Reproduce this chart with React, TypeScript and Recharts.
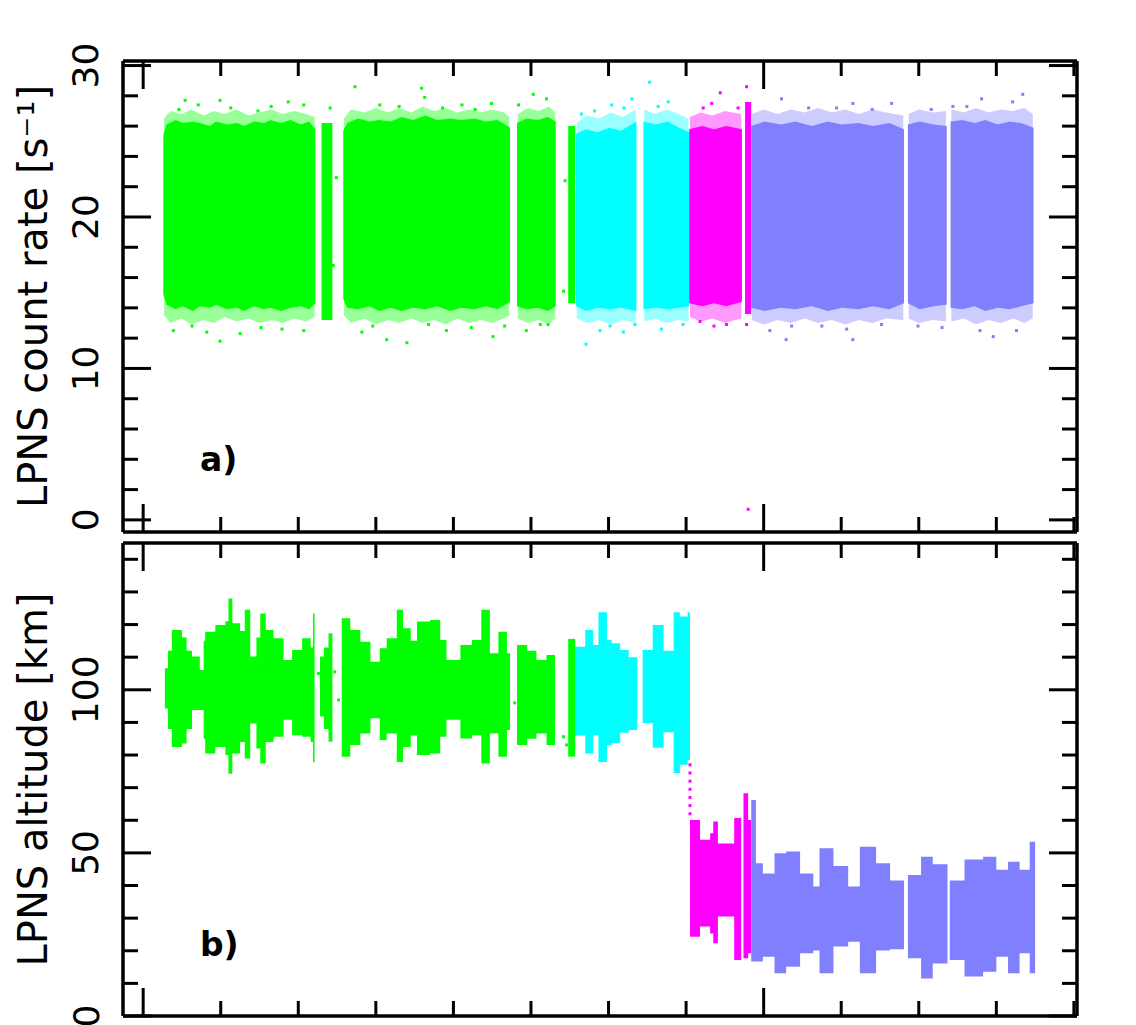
import React from 'react';
import { ComposedChart, Area, Scatter, XAxis, YAxis } from 'recharts';

const FONT = '"DejaVu Sans", "Liberation Sans", sans-serif';
const COLORS: Record<string, string> = { g: '#00ff00', c: '#00ffff', m: '#ff00ff', l: '#8080ff' };

// axis ticks (x in arbitrary orbit units)
const xTicks = [0, 10, 20, 30, 40, 50, 60, 70, 80, 90, 100, 110, 120];
const xMajor = [0, 80];
const rateTicks = [0, 2, 4, 6, 8, 10, 12, 14, 16, 18, 20, 22, 24, 26, 28, 30];
const rateLabels = [0, 10, 20, 30];
const altTicks = [0, 10, 20, 30, 40, 50, 60, 70, 80, 90, 100, 110, 120, 130, 140];
const altLabels = [0, 50, 100];

type Pt = [number, number, number]; // x, low, high
type Seg = { key: string; pts: Pt[] };

// panel a: count-rate bands (dense core of each segment)
const rateG1: Pt[] = [[2.6, 14.9, 25.4], [3.0, 14.2, 26.1], [4.2, 13.9, 26.4], [5.1, 14.1, 26.2], [6.4, 13.8, 26.3], [7.3, 14.1, 26.2], [8.6, 14.0, 26.0], [9.4, 14.2, 26.3], [10.8, 13.9, 26.1], [12.1, 14.0, 26.2], [13.0, 13.8, 26.0], [14.3, 14.1, 26.3], [15.6, 13.9, 26.2], [16.4, 14.0, 26.4], [17.8, 13.8, 26.2], [19.0, 14.0, 26.4], [20.3, 14.1, 26.1], [21.4, 13.9, 26.3], [22.2, 14.3, 25.8]];
const rateG2: Pt[] = [[23.0, 13.2, 26.2], [24.4, 13.2, 26.2]];
const rateG3: Pt[] = [[25.8, 14.6, 25.7], [26.3, 14.0, 26.2], [27.7, 13.9, 26.5], [29.2, 14.1, 26.3], [30.4, 13.8, 26.4], [31.9, 14.0, 26.3], [33.3, 13.8, 26.6], [34.8, 14.0, 26.4], [36.4, 13.9, 26.7], [37.9, 14.1, 26.4], [39.6, 13.8, 26.5], [41.0, 14.0, 26.4], [42.7, 13.9, 26.5], [44.2, 14.1, 26.3], [45.7, 13.9, 26.4], [47.3, 14.4, 25.9]];
const rateG4: Pt[] = [[48.2, 14.1, 26.2], [49.4, 13.9, 26.5], [50.9, 14.0, 26.4], [52.2, 13.8, 26.6], [53.2, 14.1, 26.3]];
const rateG5: Pt[] = [[54.8, 14.3, 26.0], [55.7, 14.3, 26.0]];
const rateC1: Pt[] = [[55.8, 14.1, 25.5], [57.1, 13.8, 25.8], [58.6, 14.0, 25.6], [60.1, 13.9, 25.9], [61.6, 14.0, 25.7], [63.6, 13.8, 26.3]];
const rateC2: Pt[] = [[64.5, 13.9, 26.3], [66.1, 14.0, 26.1], [67.6, 13.9, 26.3], [69.1, 14.0, 25.9], [70.4, 14.1, 25.6]];
const rateM1: Pt[] = [[70.4, 14.3, 25.8], [72.1, 14.1, 26.0], [73.6, 14.3, 25.8], [75.2, 14.1, 26.0], [77.2, 14.4, 25.8]];
const rateM2: Pt[] = [[77.6, 13.6, 27.6], [78.4, 13.6, 27.6]];
const rateL1: Pt[] = [[78.4, 14.0, 26.0], [80.1, 13.8, 26.3], [82.2, 14.0, 26.1], [84.1, 13.9, 26.3], [86.2, 14.1, 26.0], [88.3, 13.8, 26.3], [90.1, 14.0, 26.1], [92.2, 13.9, 26.2], [94.1, 14.1, 26.0], [96.2, 13.9, 26.2], [98.1, 14.3, 25.8]];
const rateL2: Pt[] = [[98.6, 14.3, 26.1], [100.1, 13.9, 26.3], [101.9, 14.1, 26.1], [103.6, 14.2, 26.0]];
const rateL3: Pt[] = [[104.1, 14.0, 26.3], [105.6, 13.9, 26.4], [107.2, 14.1, 26.2], [108.6, 13.8, 26.4], [110.2, 14.0, 26.1], [111.7, 13.9, 26.3], [113.2, 14.1, 26.2], [114.8, 14.3, 25.9]];

// panel a: sparse edge of each segment (drawn pale under the core)
const rateHaloG1: Pt[] = [[2.7, 13.5, 26.5], [3.5, 13.0, 27.0], [5.0, 13.3, 26.8], [6.2, 12.9, 27.1], [7.8, 13.2, 26.7], [9.1, 13.0, 27.0], [10.5, 13.4, 26.8], [12.0, 13.1, 27.1], [13.6, 13.3, 26.7], [15.0, 13.0, 26.9], [16.5, 13.2, 27.1], [18.0, 13.0, 26.8], [19.5, 13.3, 27.0], [21.0, 13.1, 26.8], [22.1, 13.4, 26.6]];
const rateHaloG3: Pt[] = [[25.9, 13.5, 26.5], [26.8, 13.0, 27.1], [28.5, 13.3, 26.9], [30.0, 12.9, 27.2], [31.6, 13.2, 26.9], [33.0, 13.0, 27.2], [34.6, 13.3, 26.9], [36.0, 13.0, 27.3], [37.5, 13.2, 27.0], [39.0, 12.9, 27.2], [40.5, 13.3, 26.9], [42.0, 13.0, 27.1], [43.5, 13.2, 26.9], [45.0, 13.0, 27.1], [46.5, 13.3, 26.9], [47.2, 13.5, 26.6]];
const rateHaloG4: Pt[] = [[48.3, 13.3, 26.8], [49.6, 13.0, 27.2], [51.0, 13.2, 27.0], [52.3, 12.9, 27.3], [53.1, 13.3, 26.9]];
const rateHaloC1: Pt[] = [[55.9, 13.3, 26.2], [57.2, 13.0, 26.7], [58.8, 13.2, 26.5], [60.3, 12.9, 26.9], [61.9, 13.2, 26.6], [63.5, 13.0, 27.1]];
const rateHaloC2: Pt[] = [[64.6, 13.1, 27.1], [66.0, 13.3, 26.8], [67.5, 13.0, 27.1], [69.0, 13.2, 26.8], [70.3, 13.1, 26.5]];
const rateHaloM1: Pt[] = [[70.5, 13.4, 26.6], [71.9, 13.1, 26.9], [73.4, 13.3, 26.7], [75.0, 13.0, 27.0], [77.1, 13.3, 26.8]];
const rateHaloL1: Pt[] = [[78.5, 13.2, 26.8], [80.0, 12.9, 27.1], [81.8, 13.2, 26.8], [83.5, 13.0, 27.1], [85.3, 13.3, 26.9], [87.0, 13.0, 27.2], [88.8, 13.2, 26.9], [90.5, 12.9, 27.1], [92.3, 13.2, 26.8], [94.0, 13.0, 27.1], [95.8, 13.3, 26.9], [98.0, 13.2, 26.7]];
const rateHaloL2: Pt[] = [[98.7, 13.3, 26.8], [100.0, 13.0, 27.1], [101.8, 13.2, 26.9], [103.5, 13.1, 27.0]];
const rateHaloL3: Pt[] = [[104.2, 13.1, 27.1], [105.8, 13.3, 26.9], [107.4, 12.9, 27.2], [109.0, 13.2, 26.9], [110.6, 13.0, 27.1], [112.2, 13.3, 27.0], [113.6, 13.0, 27.2], [114.7, 13.3, 26.8]];

// panel a: scattered points outside the core
const rateGreenDots = [[5.4, 27.7], [9.9, 27.7], [7.1, 27.4], [18.7, 27.6], [20.7, 27.4], [24.1, 27.2], [27.3, 28.6], [3.9, 12.5], [8.2, 12.4], [9.9, 11.8], [12.5, 12.3], [20.7, 12.5], [31.4, 11.9], [28.2, 12.4], [35.9, 28.5], [36.3, 27.9], [30.5, 27.4], [41.1, 27.4], [44.9, 27.5], [50.3, 28.1], [52.0, 27.8], [48.4, 27.4], [34.0, 11.7], [39.1, 12.5], [45.1, 12.1], [49.4, 12.5], [52.2, 12.9], [51.2, 12.9], [24.9, 22.6], [24.5, 16.8], [54.4, 22.4], [54.2, 15.1], [4.6, 27.1], [11.3, 27.2], [14.8, 27.0], [16.5, 27.3], [6.3, 12.8], [15.2, 12.7], [17.9, 12.6], [33.0, 27.3], [38.6, 27.2], [42.8, 27.1], [29.6, 12.8], [36.8, 12.9], [42.3, 12.7], [46.6, 12.8]];
const rateCyanDots = [[65.3, 28.9], [63.0, 27.8], [60.4, 27.4], [56.5, 26.8], [67.7, 27.6], [57.1, 11.6], [61.9, 12.4], [63.4, 12.9], [58.9, 12.5], [69.6, 12.9], [58.2, 27.0], [62.0, 27.2], [66.4, 27.3], [60.2, 12.8], [66.8, 12.6]];
const rateMagentaDots = [[74.4, 28.2], [77.8, 28.6], [72.2, 27.2], [76.7, 27.2], [71.8, 13.1], [75.2, 12.9], [77.8, 12.9], [78.0, 0.7], [73.3, 27.5], [73.6, 12.8]];
const rateLavenderDots = [[82.3, 27.8], [91.5, 27.5], [96.5, 27.5], [89.4, 27.2], [108.1, 27.8], [113.4, 28.1], [112.1, 27.6], [101.6, 27.1], [104.4, 27.3], [82.9, 11.9], [80.8, 12.5], [83.6, 12.8], [91.5, 11.9], [90.7, 12.6], [99.9, 12.8], [109.6, 12.1], [112.6, 12.5], [107.9, 12.5], [85.8, 27.2], [94.0, 27.1], [106.2, 27.3], [87.5, 12.8], [95.2, 12.9], [103.0, 12.7]];

// panel b: altitude envelopes
const altG1: Pt[] = [[2.8, 94.3, 106.6], [3.2, 88, 112], [3.7, 82.5, 118.3], [5.0, 83.5, 116], [5.6, 88, 112], [6.3, 93.8, 110.2], [7.3, 93.8, 106.1], [7.8, 85, 115], [8.0, 80.5, 117.8], [9.3, 82.5, 119.9], [10.6, 80, 121], [11.0, 74.3, 128.0], [11.5, 80.5, 120.4], [12.5, 84, 118], [13.1, 78.9, 124.5], [13.8, 89.7, 110.2], [14.6, 82, 116], [15.1, 77.4, 123.4], [15.8, 84, 118.3], [16.8, 85.6, 115.8], [18.1, 90.8, 109.1], [19.2, 86.1, 112.2], [20.5, 85.6, 115.8], [21.6, 84, 113], [21.9, 77.9, 123.4], [22.1, 77.9, 123.4]];
const altG2: Pt[] = [[22.8, 91.8, 110.2], [23.3, 88, 113], [23.9, 84.1, 117.3], [24.4, 84.1, 117.3]];
const altG3: Pt[] = [[25.6, 79.5, 121.9], [26.7, 83.1, 118.3], [28.0, 86.6, 114.7], [29.3, 91.3, 108.6], [30.5, 84.6, 112.7], [31.4, 86.6, 115.8], [32.7, 77.9, 124.5], [33.5, 82.5, 118.9], [34.5, 86, 115], [35.3, 80.0, 120.9], [37.0, 80.5, 121.4], [38.3, 85.6, 115.3], [39.1, 90.8, 109.1], [40.9, 85.1, 113.7], [42.4, 86.1, 115.3], [43.6, 77.4, 124.5], [44.7, 86.6, 111.2], [45.8, 79.5, 117.8], [46.9, 87.7, 111.2], [47.3, 87.7, 111.2]];
const altG4: Pt[] = [[48.2, 83.1, 113.7], [49.5, 85, 112], [50.7, 86.6, 109.1], [52.0, 83.1, 110.7], [53.1, 83.1, 110.7]];
const altG5: Pt[] = [[54.8, 79.5, 115.6], [55.7, 79.5, 115.6]];
const altC1: Pt[] = [[55.7, 86, 113.2], [57.0, 80.5, 118.3], [58.0, 86.1, 113.7], [58.7, 77.9, 123.8], [59.8, 83.1, 115.3], [60.4, 83.7, 114.3], [61.5, 86.8, 112.2], [62.6, 87.7, 110.0], [63.7, 87.7, 110.0]];
const altC2: Pt[] = [[64.4, 89.8, 112.2], [65.7, 82.2, 119.9], [67.1, 87, 112], [68.4, 74.5, 123.8], [69.2, 77, 122.5], [70.2, 78.5, 123.8], [70.5, 78.5, 123.8]];
const altM1: Pt[] = [[70.5, 24.3, 60.1], [71.8, 27.4, 54.0], [73.1, 25.3, 56.0], [73.5, 22.3, 59.6], [74.1, 30.5, 52.9], [76.2, 17.2, 60.7], [77.1, 17.2, 60.7]];
const altM2: Pt[] = [[77.4, 17.7, 68.3], [78.0, 19.2, 60.1], [78.4, 19.2, 60.1]];
const altL1: Pt[] = [[78.4, 16.7, 66.2], [79.0, 16.7, 46.8], [79.9, 18.2, 43.7], [81.4, 13.1, 49.9], [82.9, 15.1, 50.4], [84.7, 19.2, 43.7], [86.4, 20.1, 39.7], [87.2, 13.1, 51.4], [89.0, 21.3, 46.0], [90.9, 22.8, 39.7], [92.4, 13.1, 51.9], [94.5, 20.1, 46.8], [96.3, 20.5, 41.5], [98.1, 20.5, 41.5]];
const altL2: Pt[] = [[98.6, 17.7, 43.2], [100.3, 11.5, 48.8], [101.8, 16.1, 46.5], [103.7, 16.1, 46.5]];
const altL3: Pt[] = [[104.0, 17.2, 41.5], [105.9, 12.1, 48.0], [108.3, 13.6, 48.8], [110.0, 18.2, 44.8], [111.5, 13.1, 47.3], [113.0, 19.2, 44.8], [114.3, 13.1, 53.4], [115.0, 13.1, 53.4]];

// panel b: stray points
const altGreenDots = [[24.7, 105.5], [25.2, 96.9], [22.6, 105], [54.2, 85.6], [54.6, 83.1], [47.9, 96]];
const altMagentaDots = [[70.5, 62], [70.5, 64.5], [70.5, 67], [70.5, 69.5], [70.5, 72], [70.5, 74.5], [70.5, 77]];

const rateSegs: Seg[] = [
  { key: 'g', pts: rateG1 }, { key: 'g', pts: rateG2 }, { key: 'g', pts: rateG3 }, { key: 'g', pts: rateG4 }, { key: 'g', pts: rateG5 },
  { key: 'c', pts: rateC1 }, { key: 'c', pts: rateC2 },
  { key: 'm', pts: rateM1 }, { key: 'm', pts: rateM2 },
  { key: 'l', pts: rateL1 }, { key: 'l', pts: rateL2 }, { key: 'l', pts: rateL3 },
];
const rateHaloSegs: Seg[] = [
  { key: 'g', pts: rateHaloG1 }, { key: 'g', pts: rateHaloG3 }, { key: 'g', pts: rateHaloG4 },
  { key: 'c', pts: rateHaloC1 }, { key: 'c', pts: rateHaloC2 },
  { key: 'm', pts: rateHaloM1 },
  { key: 'l', pts: rateHaloL1 }, { key: 'l', pts: rateHaloL2 }, { key: 'l', pts: rateHaloL3 },
];
const altSegs: Seg[] = [
  { key: 'g', pts: altG1 }, { key: 'g', pts: altG2 }, { key: 'g', pts: altG3 }, { key: 'g', pts: altG4 }, { key: 'g', pts: altG5 },
  { key: 'c', pts: altC1 }, { key: 'c', pts: altC2 },
  { key: 'm', pts: altM1 }, { key: 'm', pts: altM2 },
  { key: 'l', pts: altL1 }, { key: 'l', pts: altL2 }, { key: 'l', pts: altL3 },
];

// one table per panel, one column per segment
function buildRows(segs: Seg[], prefix: string) {
  const rows: any[] = [];
  segs.forEach((s, i) => s.pts.forEach(([x, lo, hi]) => rows.push({ x, [`${prefix}${i}`]: [lo, hi] })));
  return rows;
}

const toXY = (arr: number[][]) => arr.map(([x, y]) => ({ x, y }));

const Square = (props: any) => {
  const { cx, cy, fill } = props;
  if (cx == null || cy == null) return null;
  return <rect x={cx - 1.5} y={cy - 1.5} width={3} height={3} fill={fill} />;
};

const makeYTick = (side: 'left' | 'right', labels: number[]) => (props: any) => {
  const { x, y, payload } = props;
  const v = payload.value;
  const len = labels.includes(v) ? 28 : 15;
  const dir = side === 'left' ? 1 : -1;
  const lx = x - 37;
  return (
    <g>
      <line x1={x} x2={x + dir * len} y1={y} y2={y} stroke="#000" strokeWidth={3} />
      {side === 'left' && labels.includes(v) && (
        <text
          x={lx}
          y={y}
          transform={`rotate(-90 ${lx} ${y})`}
          textAnchor="middle"
          dominantBaseline="central"
          fontSize={36}
          fontFamily={FONT}
          fill="#000"
        >
          {v}
        </text>
      )}
    </g>
  );
};

const makeXTick = (side: 'top' | 'bottom') => (props: any) => {
  const { x, y, payload } = props;
  const len = xMajor.includes(payload.value) ? 28 : 15;
  const dir = side === 'top' ? 1 : -1;
  return <line x1={x} x2={x} y1={y} y2={y + dir * len} stroke="#000" strokeWidth={3} />;
};

const axisLine = { stroke: '#000', strokeWidth: 3.5 };

const yTitle = (text: React.ReactNode) => (props: any) => {
  const vb = props.viewBox;
  const cx = vb.x + 33;
  const cy = vb.y + vb.height / 2;
  return (
    <text
      x={cx}
      y={cy}
      transform={`rotate(-90 ${cx} ${cy})`}
      textAnchor="middle"
      dominantBaseline="central"
      fontSize={40}
      fontFamily={FONT}
      fill="#000"
    >
      {text}
    </text>
  );
};

interface PanelProps {
  segs: Seg[];
  halo: Seg[];
  dots: { key: string; pts: number[][] }[];
  yDomain: [number, number];
  yTicks: number[];
  yLabels: number[];
  title: string;
  curve: 'linear' | 'stepAfter';
  height: number;
  margin: { top: number; right: number; bottom: number; left: number };
}

const Panel: React.FC<PanelProps> = ({ segs, halo, dots, yDomain, yTicks, yLabels, title, curve, height, margin }) => {
  const rows = buildRows(segs, 's').concat(buildRows(halo, 'h')).sort((a, b) => a.x - b.x);
  return (
    <ComposedChart width={1136} height={height} data={rows} margin={margin}>
      <XAxis
        dataKey="x"
        type="number"
        domain={[-2.6, 120.4]}
        ticks={xTicks}
        interval={0}
        allowDataOverflow
        height={1}
        tickSize={0}
        tickMargin={0}
        tickLine={false}
        axisLine={axisLine}
        tick={makeXTick('bottom')}
      />
      <XAxis
        xAxisId="top"
        dataKey="x"
        type="number"
        orientation="top"
        domain={[-2.6, 120.4]}
        ticks={xTicks}
        interval={0}
        allowDataOverflow
        height={1}
        tickSize={0}
        tickMargin={0}
        tickLine={false}
        axisLine={axisLine}
        tick={makeXTick('top')}
      />
      <YAxis
        type="number"
        domain={yDomain}
        ticks={yTicks}
        interval={0}
        allowDataOverflow
        width={123}
        tickSize={0}
        tickMargin={0}
        tickLine={false}
        axisLine={axisLine}
        tick={makeYTick('left', yLabels)}
        label={{ content: yTitle(title) } as any}
      />
      <YAxis
        yAxisId="right"
        orientation="right"
        type="number"
        domain={yDomain}
        ticks={yTicks}
        interval={0}
        allowDataOverflow
        width={1}
        tickSize={0}
        tickMargin={0}
        tickLine={false}
        axisLine={axisLine}
        tick={makeYTick('right', yLabels)}
      />
      {halo.map((s, i) => (
        <Area
          key={`h${i}`}
          dataKey={`h${i}`}
          type="linear"
          stroke="none"
          fill={COLORS[s.key]}
          fillOpacity={0.4}
          connectNulls
          dot={false}
          activeDot={false}
          isAnimationActive={false}
        />
      ))}
      {segs.map((s, i) => (
        <Area
          key={`s${i}`}
          dataKey={`s${i}`}
          type={curve}
          stroke="none"
          fill={COLORS[s.key]}
          fillOpacity={1}
          connectNulls
          dot={false}
          activeDot={false}
          isAnimationActive={false}
        />
      ))}
      {dots.map((d, i) => (
        <Scatter
          key={i}
          xAxisId="top"
          yAxisId="right"
          data={toXY(d.pts)}
          dataKey="y"
          fill={COLORS[d.key]}
          shape={Square}
          isAnimationActive={false}
        />
      ))}
    </ComposedChart>
  );
};

const panelText: React.CSSProperties = {
  position: 'absolute',
  fontFamily: FONT,
  fontWeight: 'bold',
  fontSize: 33,
  lineHeight: '33px',
  color: '#000',
};

export default function App() {
  return (
    <div style={{ position: 'absolute', left: 0, top: 0, width: 1136, height: 1025, background: '#fff', overflow: 'hidden' }}>
      <div style={{ position: 'absolute', left: 0, top: 0 }}>
        <Panel
          segs={rateSegs}
          halo={rateHaloSegs}
          dots={[
            { key: 'g', pts: rateGreenDots },
            { key: 'c', pts: rateCyanDots },
            { key: 'm', pts: rateMagentaDots },
            { key: 'l', pts: rateLavenderDots },
          ]}
          yDomain={[-0.8, 30.3]}
          yTicks={rateTicks}
          yLabels={rateLabels}
          title="LPNS count rate [s⁻¹]"
          curve="linear"
          height={545}
          margin={{ top: 60, right: 58, bottom: 12, left: 0 }}
        />
      </div>
      <div style={{ position: 'absolute', left: 0, top: 530 }}>
        <Panel
          segs={altSegs}
          halo={[]}
          dots={[
            { key: 'g', pts: altGreenDots },
            { key: 'm', pts: altMagentaDots },
          ]}
          yDomain={[0, 145]}
          yTicks={altTicks}
          yLabels={altLabels}
          title="LPNS altitude [km]"
          curve="stepAfter"
          height={530}
          margin={{ top: 12, right: 58, bottom: 43, left: 0 }}
        />
      </div>
      <div style={{ ...panelText, left: 200, top: 443 }}>a)</div>
      <div style={{ ...panelText, left: 200, top: 928 }}>b)</div>
    </div>
  );
}
